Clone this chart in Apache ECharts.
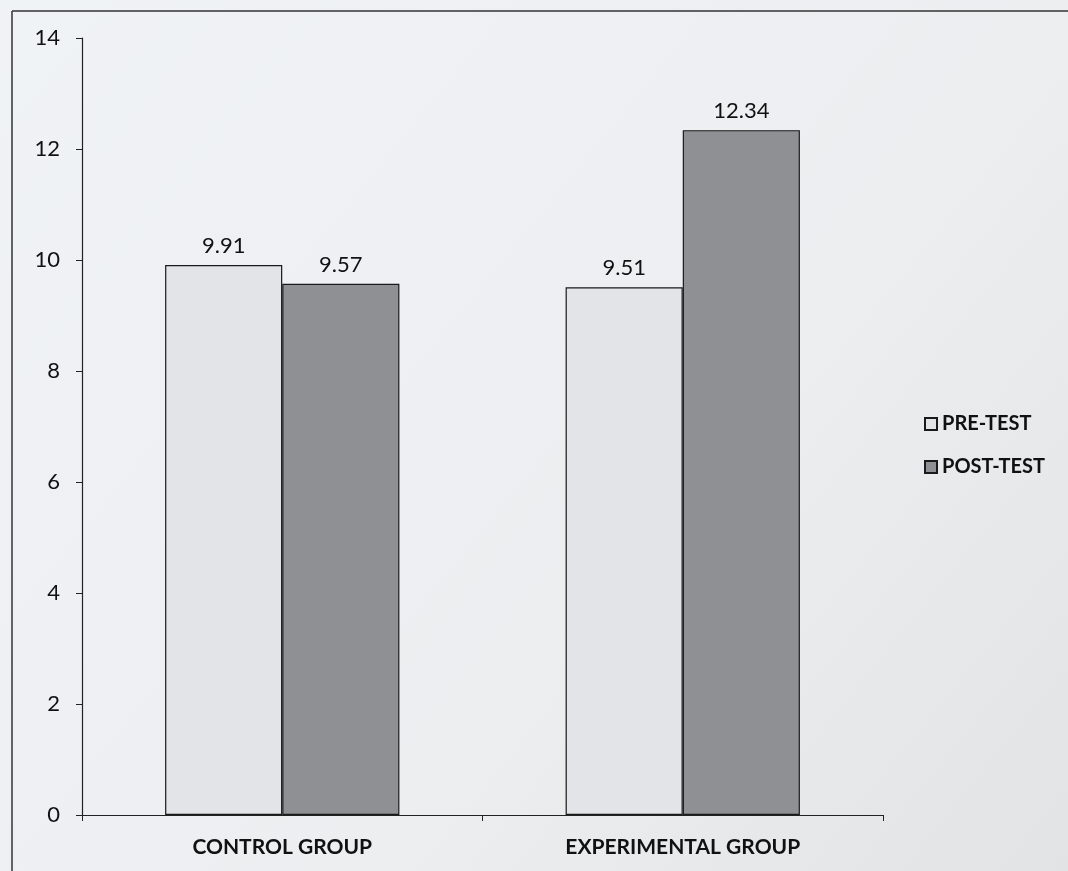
<!DOCTYPE html>
<html><head><meta charset="utf-8">
<script src="https://cdn.jsdelivr.net/npm/echarts@6/dist/echarts.min.js"></script>
<style>html,body{margin:0;padding:0;background:#eceef0;}#c{width:1068px;height:871px;}</style>
</head><body><div id="c"></div>
<script>
const categories = ['CONTROL GROUP', 'EXPERIMENTAL GROUP'];
const seriesNames = ['PRE-TEST', 'POST-TEST'];
const preTest = [9.91, 9.51];
const postTest = [9.57, 12.34];
const yTicks = [0, 2, 4, 6, 8, 10, 12, 14];

const chart = echarts.init(document.getElementById('c'), null, {renderer: 'canvas'});
const fontFam = 'Lato, "Open Sans", "Noto Sans", sans-serif';
chart.setOption({
  backgroundColor: {
    type: 'linear', x: 0, y: 0, x2: 1, y2: 1,
    colorStops: [{offset: 0, color: '#f0f3f6'}, {offset: 0.6, color: '#eceef0'}, {offset: 1, color: '#e1e3e5'}]
  },
  animation: false,
  graphic: [
    {type: 'line', shape: {x1: 12, y1: 11, x2: 1068, y2: 11}, style: {stroke: '#333', lineWidth: 1.5}},
    {type: 'line', shape: {x1: 12, y1: 11, x2: 12, y2: 871}, style: {stroke: '#333', lineWidth: 1.5}}
  ],
  grid: {left: 82, right: 1068 - 883, top: 38, bottom: 871 - 815, containLabel: false},
  legend: {
    data: seriesNames, orient: 'vertical', left: 919, top: 409, itemGap: 23,
    itemWidth: 12, itemHeight: 12, icon: 'rect',
    textStyle: {fontFamily: fontFam, fontWeight: 'bold', fontSize: 20, color: '#111'}
  },
  xAxis: {
    type: 'category', data: categories,
    axisLine: {lineStyle: {color: '#222', width: 1.2}},
    axisTick: {show: true, length: 6, lineStyle: {color: '#222'}},
    axisLabel: {fontFamily: fontFam, fontWeight: 'bold', fontSize: 21, color: '#111', margin: 22}
  },
  yAxis: {
    type: 'value', min: 0, max: 14, interval: 2,
    axisLine: {show: true, lineStyle: {color: '#222', width: 1.2}},
    axisTick: {show: true, length: 6, lineStyle: {color: '#222'}},
    splitLine: {show: false},
    axisLabel: {fontFamily: fontFam, fontSize: 22, color: '#111', margin: 22}
  },
  series: [
    {
      name: seriesNames[0], type: 'bar', data: preTest,
      barGap: '0%', barCategoryGap: '41.5%',
      itemStyle: {color: '#e3e4e8', borderColor: '#1a1a1a', borderWidth: 1.2},
      label: {show: true, position: 'top', distance: 8, fontFamily: fontFam, fontSize: 22, color: '#111'}
    },
    {
      name: seriesNames[1], type: 'bar', data: postTest,
      barGap: '0%', barCategoryGap: '41.5%',
      itemStyle: {color: '#8f9094', borderColor: '#1a1a1a', borderWidth: 1.2},
      label: {show: true, position: 'top', distance: 8, fontFamily: fontFam, fontSize: 22, color: '#111'}
    }
  ]
});
</script></body></html>
